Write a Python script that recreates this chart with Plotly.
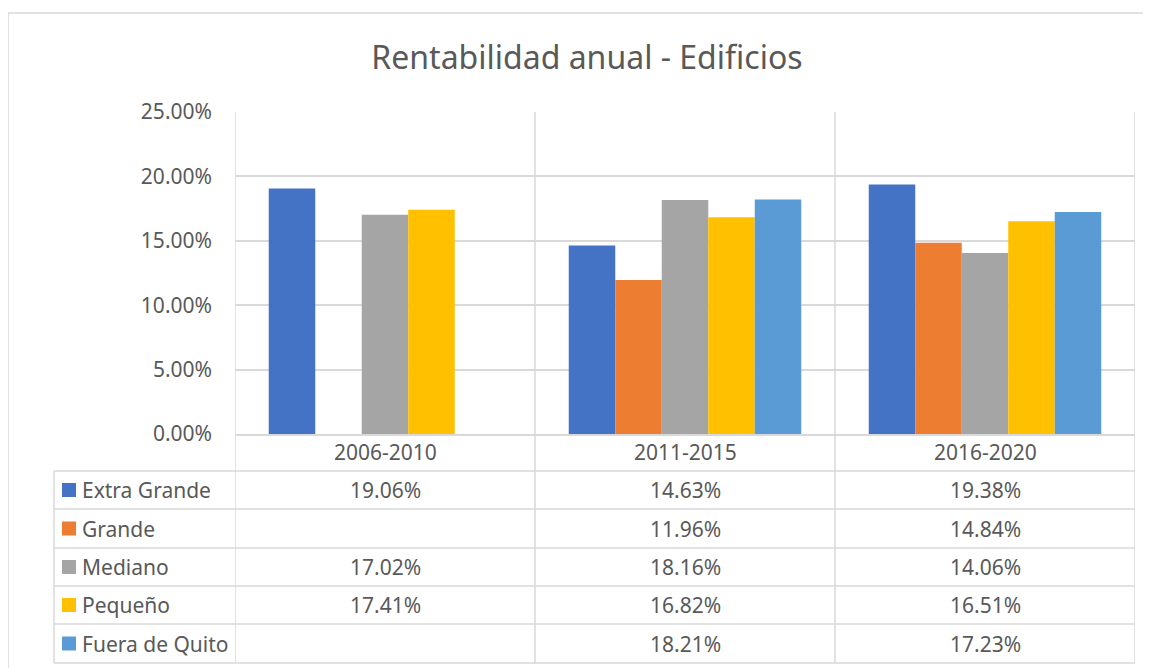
import plotly.graph_objects as go

categories = ["2006-2010", "2011-2015", "2016-2020"]
series_names = ["Extra Grande", "Grande", "Mediano", "Pequeño", "Fuera de Quito"]
extra_grande = [0.1906, 0.1463, 0.1938]
grande = [None, 0.1196, 0.1484]
mediano = [0.1702, 0.1816, 0.1406]
pequeno = [0.1741, 0.1682, 0.1651]
fuera_quito = [None, 0.1821, 0.1723]
series_values = [extra_grande, grande, mediano, pequeno, fuera_quito]
colors = ["#4472C4", "#ED7D31", "#A5A5A5", "#FFC000", "#5B9BD5"]
y_ticks = [0, 0.05, 0.10, 0.15, 0.20, 0.25]

# page body has an 8px margin; compensate
OFF = 8
W, H = 1151 - OFF, 668 - OFF
PL, PR, PT, PB = 235 - OFF, 1135 - OFF, 112 - OFF, 434 - OFF
TEXT = "#595959"
GRID = "#d9d9d9"
FONT = "Noto Sans"
FS = 21

def px_x(px):
    return (px - OFF - PL) / (PR - PL)

def px_y(py):
    return (PB - (py - OFF)) / (PB - PT)

fig = go.Figure()
for name, vals, col in zip(series_names, series_values, colors):
    fig.add_trace(go.Bar(x=categories, y=vals, name=name, marker_color=col,
                         marker_line_width=0, showlegend=False))

shapes = []
annotations = []

row_edges = [471, 509, 548, 586, 624, 663]
for ry in row_edges:
    shapes.append(dict(type="line", xref="paper", yref="paper",
                       x0=px_x(54), x1=px_x(1135), y0=px_y(ry), y1=px_y(ry),
                       line=dict(color=GRID, width=1.5)))
shapes.append(dict(type="line", xref="paper", yref="paper",
                   x0=px_x(54), x1=px_x(54), y0=px_y(471), y1=px_y(663),
                   line=dict(color=GRID, width=1.5)))
for i in range(len(categories) + 1):
    shapes.append(dict(type="line", xref="x", yref="paper",
                       x0=i - 0.5, x1=i - 0.5, y0=1, y1=px_y(663),
                       line=dict(color=GRID, width=1.5)))
# outer chart border (top and left edges visible)
shapes.append(dict(type="line", xref="paper", yref="paper",
                   x0=px_x(8), x1=px_x(1151), y0=px_y(13), y1=px_y(13),
                   line=dict(color=GRID, width=1.5)))
shapes.append(dict(type="line", xref="paper", yref="paper",
                   x0=px_x(8), x1=px_x(8), y0=px_y(13), y1=px_y(668),
                   line=dict(color=GRID, width=1.5)))

for i, c in enumerate(categories):
    annotations.append(dict(x=i, y=px_y(452), xref="x", yref="paper", text=c,
                            showarrow=False, font=dict(family=FONT, size=FS, color=TEXT),
                            xanchor="center", yanchor="middle"))

for r, (name, vals, col) in enumerate(zip(series_names, series_values, colors)):
    cy = (row_edges[r] + row_edges[r + 1]) / 2
    shapes.append(dict(type="rect", xref="paper", yref="paper",
                       x0=px_x(62), x1=px_x(76), y0=px_y(cy - 7), y1=px_y(cy + 7),
                       fillcolor=col, line=dict(width=0)))
    annotations.append(dict(x=px_x(80), y=px_y(cy), xref="paper", yref="paper", text=name,
                            showarrow=False, font=dict(family=FONT, size=FS, color=TEXT),
                            xanchor="left", yanchor="middle"))
    for i, v in enumerate(vals):
        if v is None:
            continue
        annotations.append(dict(x=i, y=px_y(cy), xref="x", yref="paper",
                                text=f"{v*100:.2f}%", showarrow=False,
                                font=dict(family=FONT, size=FS, color=TEXT),
                                xanchor="center", yanchor="middle"))

fig.update_layout(
    width=W, height=H,
    margin=dict(l=PL, r=W - PR, t=PT, b=H - PB),
    paper_bgcolor="white", plot_bgcolor="white",
    barmode="group", bargap=0.225, bargroupgap=0,
    title=dict(text="Rentabilidad anual - Edificios", x=px_x(587), xanchor="center",
               xref="paper", y=1 - (58 - OFF) / H, yanchor="middle",
               font=dict(family=FONT, size=32, color=TEXT)),
    xaxis=dict(type="category", range=[-0.5, 2.5], showticklabels=False,
               showgrid=False, showline=True, linecolor=GRID, linewidth=1.5,
               ticks="", zeroline=False),
    yaxis=dict(range=[0, 0.25], tickvals=y_ticks, tickformat=".2%",
               showgrid=True, gridcolor=GRID, gridwidth=1.5, zeroline=False,
               showline=False, ticks="", ticklabelstandoff=22,
               tickfont=dict(family=FONT, size=FS, color=TEXT)),
    shapes=shapes, annotations=annotations,
)

fig.write_html("out.html")
